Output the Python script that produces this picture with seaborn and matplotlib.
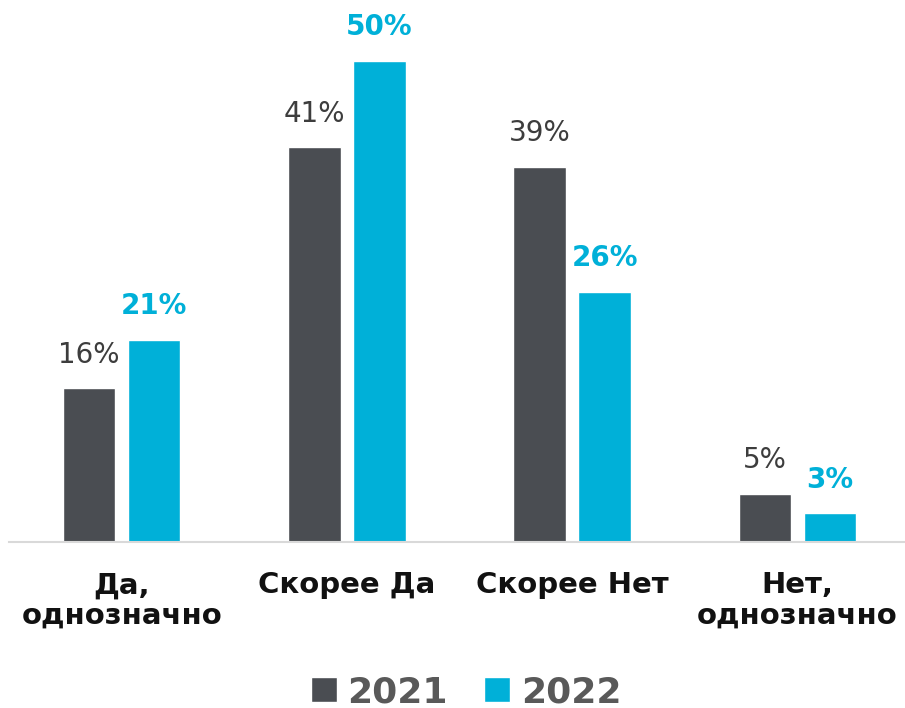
import matplotlib
matplotlib.use("Agg")
import matplotlib.pyplot as plt
import seaborn as sns
import pandas as pd

categories = ["Да,\nоднозначно", "Скорее Да", "Скорее Нет", "Нет,\nоднозначно"]
years = ["2021", "2022"]
values_2021 = [16, 41, 39, 5]
values_2022 = [21, 50, 26, 3]

df = pd.DataFrame({
    "cat": categories * 2,
    "year": [years[0]] * 4 + [years[1]] * 4,
    "val": values_2021 + values_2022,
})

sns.set_theme(style="white")
plt.rcParams["font.family"] = ["DejaVu Sans"]

dark = "#4a4d52"
blue = "#00b0d8"

fig = plt.figure(figsize=(9.05, 7.08), dpi=100)
ax = fig.add_axes([9 / 905, 166 / 708, 1 - 9 / 905, 542 / 708])
sns.barplot(data=df, x="cat", y="val", hue="year", palette=[dark, blue],
            width=0.577, gap=0.19, ax=ax, saturation=1, legend=True)

ax.set_xlim(-0.5, 3.477)
ax.set_ylim(0, 56.3)
ax.set_xlabel("")
ax.set_ylabel("")
ax.set_yticks([])
for s in ["top", "right", "left"]:
    ax.spines[s].set_visible(False)
ax.spines["bottom"].set_color("#d9d9d9")
ax.spines["bottom"].set_linewidth(1.5)
ax.tick_params(axis="x", length=0, pad=21)
for lbl in ax.get_xticklabels():
    lbl.set_fontsize(21)
    lbl.set_fontweight("bold")
    lbl.set_color("#111111")
    lbl.set_linespacing(1.1)

conts = ax.containers
ax.bar_label(conts[0], labels=[f"{v}%" for v in values_2021], padding=14,
             fontsize=20, color="#3d3d3d")
ax.bar_label(conts[1], labels=[f"{v}%" for v in values_2022], padding=14,
             fontsize=20, color=blue, fontweight="bold")

sns.move_legend(ax, "center", bbox_to_anchor=(0.51, -0.277), ncol=2,
                frameon=False, title=None, fontsize=26, handlelength=0.72,
                handleheight=0.72, handletextpad=0.3, columnspacing=1.0)
for t in ax.get_legend().get_texts():
    t.set_fontweight("bold")
    t.set_color("#595959")

fig.savefig("out.png", dpi=100)
